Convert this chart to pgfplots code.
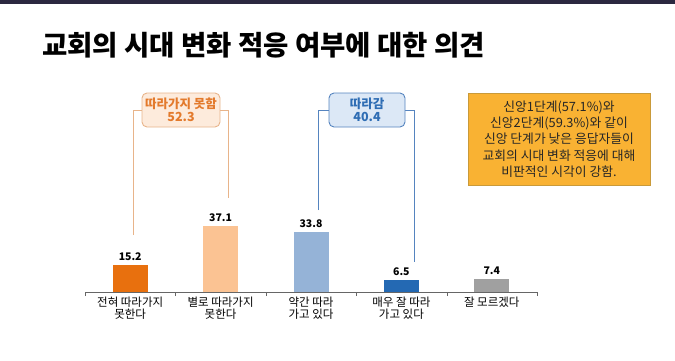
\documentclass[border=0pt]{standalone}
\usepackage{pgfplots}
\pgfplotsset{compat=1.18}
\usepackage{fontspec}
\setmainfont{Noto Sans CJK KR}
\definecolor{barA}{HTML}{E8700E}
\definecolor{barB}{HTML}{FBC393}
\definecolor{barC}{HTML}{95B3D7}
\definecolor{barD}{HTML}{2469B3}
\definecolor{barE}{HTML}{A0A0A0}
\definecolor{topbar}{HTML}{2B2840}
\definecolor{oline}{HTML}{E8B48A}
\definecolor{otext}{HTML}{E37A2C}
\definecolor{ofill}{HTML}{FDEBDC}
\definecolor{bline}{HTML}{5584BF}
\definecolor{btext}{HTML}{2E6DB4}
\definecolor{bfill}{HTML}{DCE8F6}
\definecolor{note}{HTML}{F9B233}
\definecolor{noteborder}{HTML}{C99A3A}
\begin{document}
\begin{tikzpicture}
\useasboundingbox (0,0) rectangle (675pt,360pt);
\fill[topbar] (0,356pt) rectangle (675pt,360pt);
\node[anchor=west,inner sep=0] at (42pt,315pt) {\fontsize{27.5}{32}\selectfont\bfseries 교회의 시대 변화 적응 여부에 대한 의견};
\begin{axis}[
  at={(85pt,68pt)}, anchor=south west,
  scale only axis, width=452pt, height=195.8pt,
  xmin=-0.5, xmax=4.5, ymin=0, ymax=110,
  axis x line=bottom, axis y line=none,
  axis line style={draw=gray!80!black,-},
  clip=false,
  ybar, bar width=35pt, bar shift=0pt,
  xtick={0,1,2,3,4},
  xticklabels={{전혀 따라가지\\못한다},{별로 따라가지\\못한다},{약간 따라\\가고 있다},{매우 잘 따라\\가고 있다},{잘 모르겠다}},
  xticklabel style={align=center,font=\fontsize{11.5}{12.5}\selectfont,text=black,yshift=-1pt},
  major tick length=0pt,
  minor xtick={-0.5,0.5,1.5,2.5,3.5,4.5},
  minor tick length=4pt, tick align=outside,
  minor tick style={draw=gray!80!black},
  nodes near coords,
  /pgf/number format/fixed, /pgf/number format/precision=1, /pgf/number format/fixed zerofill,
  /pgf/number format/assume math mode=true,
  every node near coord/.append style={font=\fontsize{10.5}{12}\selectfont\bfseries,text=black,yshift=1pt},
]
\addplot[fill=barA,draw=none] coordinates {(0,15.2)};
\addplot[fill=barB,draw=none] coordinates {(1,37.1)};
\addplot[fill=barC,draw=none] coordinates {(2,33.8)};
\addplot[fill=barD,draw=none] coordinates {(3,6.5)};
\addplot[fill=barE,draw=none] coordinates {(4,7.4)};
\end{axis}
\begin{scope}[yshift=360pt,x=1pt,y=-1pt]
\draw[oline,line width=0.9pt] (133,235) -- (133,110) -- (142,110);
\draw[oline,line width=0.9pt] (220,110) -- (228,110) -- (228,198);
\node[draw=oline,fill=ofill,rounded corners=5pt,line width=0.9pt,minimum width=78pt,minimum height=34pt,inner sep=0,align=center,text=otext,font=\fontsize{12.5}{13.5}\selectfont\bfseries] at (181,110) {따라가지 못함\\52.3};
\draw[bline,line width=0.9pt] (318,210) -- (318,110) -- (329,110);
\draw[bline,line width=0.9pt] (405,110) -- (414,110) -- (414,262);
\node[draw=bline,fill=bfill,rounded corners=5pt,line width=0.9pt,minimum width=76pt,minimum height=34pt,inner sep=0,align=center,text=btext,font=\fontsize{12.5}{13.5}\selectfont\bfseries] at (367,110) {따라감\\40.4};
\node[draw=noteborder,fill=note,line width=0.6pt,minimum width=182pt,minimum height=92pt,inner sep=0,align=center,text=black!85,font=\fontsize{12.8}{16.3}\selectfont] at (559,139) {신앙1단계(57.1\%)와\\신앙2단계(59.3\%)와 같이\\신앙 단계가 낮은 응답자들이\\교회의 시대 변화 적응에 대해\\비판적인 시각이 강함.};
\end{scope}
\end{tikzpicture}
\end{document}
